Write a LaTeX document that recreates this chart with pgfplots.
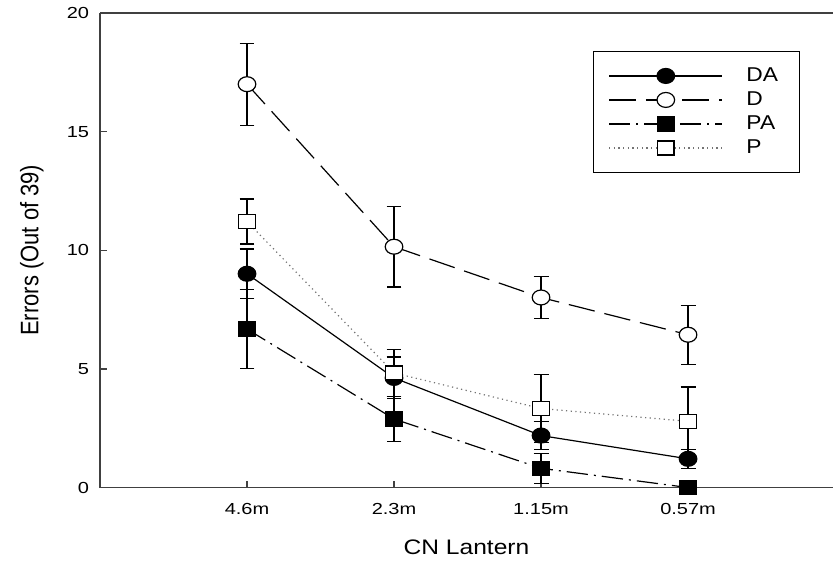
\documentclass[border=0pt]{standalone}
\usepackage{pgfplots}
\pgfplotsset{compat=1.18}
\usepackage{fontspec}
\setmainfont{Liberation Sans}
\begin{document}
\begin{tikzpicture}
\begin{axis}[
  scale only axis,
  width=549.75pt, height=355.9pt,
  xmin=0, xmax=4.986, ymin=0, ymax=20,
  axis lines*=left,
  axis line style={-, line width=1.1pt, black!75},
  clip=false,
  xtick={1,2,3,4},
  xticklabels={4.6m,2.3m,1.15m,0.57m},
  ytick={0,5,10,15,20},
  minor tick num=0,
  tick align=inside,
  major tick length=5pt,
  every tick/.style={line width=0.9pt, black!75},
  /pgf/number format/assume math mode=true,
  xticklabel style={font=\fontsize{12}{14}\selectfont, inner sep=0pt, anchor=north, yshift=-11.6pt, xscale=1.25},
  yticklabel style={font=\fontsize{12}{14}\selectfont, inner sep=0pt, anchor=east, xshift=-8pt, xscale=1.25},
  xlabel={CN Lantern},
  ylabel={Errors (Out of 39)},
  every axis x label/.style={at={(axis description cs:0.5,0)}, anchor=north, inner sep=0pt, yshift=-39.4pt, font=\fontsize{15.75}{18}\selectfont, xscale=1.17},
  every axis y label/.style={at={(axis description cs:-0.0764,0.5)}, rotate=90, anchor=south, inner sep=0pt, font=\fontsize{16.5}{18}\selectfont, yscale=1.15},
  legend style={at={(0.6726,0.9199)}, anchor=north west, draw=black, line width=0.8pt,
    inner xsep=11.25pt, inner ysep=9.3pt, row sep=0pt, cells={anchor=west},
    nodes={draw=none, inner xsep=0pt, inner ysep=0pt, minimum height=18pt, text width=24.8pt, font=\fontsize{15}{17}\selectfont, xscale=1.14}},
  legend image code/.code={
    \path[draw=none, fill=none] (0pt,0pt) -- (103pt,0pt);
    \draw[#1] (0pt,0pt) -- (85pt,0pt);
    \draw[#1] plot coordinates {(42.5pt,0pt)};
  },
  error bars/y dir=both,
  error bars/y explicit,
  error bars/error bar style={solid, line width=0.9pt, black},
  error bars/error mark options={rotate=90, mark size=5.6pt, line width=0.9pt, black, solid},
]
% DA
\addplot[black, solid, line width=0.9pt, mark=*, mark size=5.6pt,
  mark options={solid, draw=black, fill=black, xscale=1.18}]
  coordinates {(1,9.01) +- (0,1.04) (2,4.62) +- (0,0.88) (3,2.19) +- (0,0.60) (4,1.21) +- (0,0.40)};
% D
\addplot[black, line width=0.9pt, dash pattern=on 20pt off 7.5pt, mark=*, mark size=5.6pt,
  mark options={solid, draw=black, fill=white, xscale=1.18}]
  coordinates {(1,17.00) +- (0,1.73) (2,10.15) +- (0,1.70) (3,8.01) +- (0,0.89) (4,6.44) +- (0,1.24)};
% PA
\addplot[black, line width=0.9pt, dash pattern=on 16pt off 4.5pt on 1.5pt off 4.5pt, mark=square*, mark size=5.25pt,
  mark options={solid, draw=black, fill=black, xscale=1.17}]
  coordinates {(1,6.68) +- (0,1.66) (2,2.89) +- (0,0.94) (3,0.81) +- (0,0.64) (4,0.00) +- (0,0.00)};
% P
\addplot[black!55, line width=0.9pt, dash pattern=on 0.9pt off 2.6pt, mark=square*, mark size=5.25pt,
  mark options={solid, draw=black, fill=white, xscale=1.17}]
  coordinates {(1,11.21) +- (0,0.95) (2,4.83) +- (0,0.98) (3,3.33) +- (0,1.43) (4,2.79) +- (0,1.45)};
\legend{DA,D,PA,P}
\draw[line width=1.1pt, black!75] (rel axis cs:0,1) -- (rel axis cs:1,1);
\coordinate (bbsw) at (axis description cs:-0.13643,-0.15279);
\coordinate (bbne) at (axis description cs:1,1.0274);
\end{axis}
\pgfresetboundingbox
\path[use as bounding box] (bbsw) rectangle (bbne);
\end{tikzpicture}
\end{document}
